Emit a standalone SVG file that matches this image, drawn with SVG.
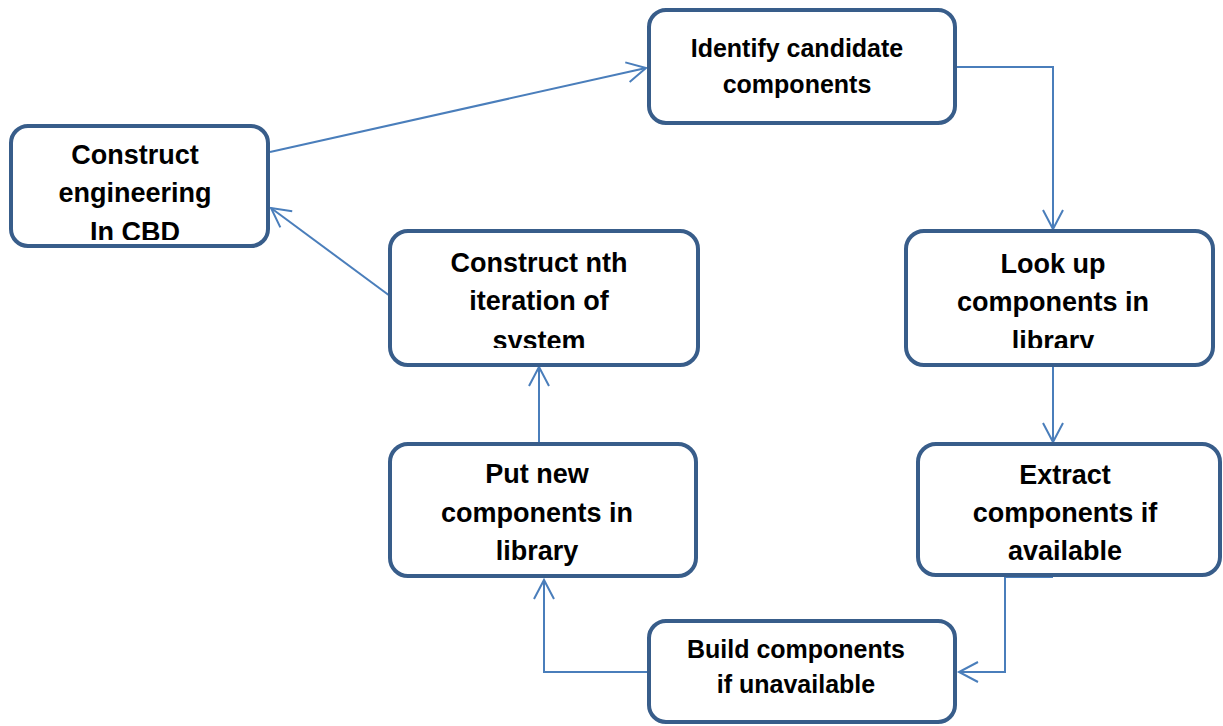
<svg xmlns="http://www.w3.org/2000/svg" width="1223" height="726" viewBox="0 0 1223 726">
<style>
.box{fill:#ffffff;stroke:#385d8a;stroke-width:4}
.lbl{font-family:"Liberation Sans",Arial,sans-serif;font-weight:bold;fill:#000000;text-anchor:middle}
.big{font-size:27px}
.sm{font-size:25px}
.con{fill:none;stroke:#4a7ebb;stroke-width:2}
</style>
<defs>
<marker id="arr" markerUnits="userSpaceOnUse" markerWidth="30" markerHeight="30" viewBox="-22 -15 30 30" refX="0" refY="0" orient="auto">
<path d="M-19,-10 L0,0 L-19,10" fill="none" stroke="#4a7ebb" stroke-width="2"/>
</marker>
<clipPath id="c1"><rect x="13" y="128" width="253" height="112"/></clipPath>
<clipPath id="c3"><rect x="392" y="233" width="304" height="115"/></clipPath>
<clipPath id="c4"><rect x="908" y="233" width="303" height="115"/></clipPath>
</defs>
<rect width="1223" height="726" fill="#ffffff"/>
<g id="connectors">
<path class="con" d="M270,152 L646,68" marker-end="url(#arr)"/>
<path class="con" d="M957,67 H1053 V229" marker-end="url(#arr)"/>
<path class="con" d="M1053,367 V442" marker-end="url(#arr)"/>
<path class="con" d="M1053,577 H1005 V672 H959" marker-end="url(#arr)"/>
<path class="con" d="M647,672 H544 V580" marker-end="url(#arr)"/>
<path class="con" d="M539,444 V367" marker-end="url(#arr)"/>
<path class="con" d="M390,296 L271,208" marker-end="url(#arr)"/>
</g>
<g id="node-construct-engineering">
<rect class="box" x="11" y="126" width="257" height="120" rx="17"/>
<g clip-path="url(#c1)">
<text class="lbl big" x="135" y="164">Construct</text>
<text class="lbl big" x="135" y="202">engineering</text>
<text class="lbl big" x="135" y="241">In CBD</text>
</g>
</g>
<g id="node-identify">
<rect class="box" x="649" y="10" width="306" height="113" rx="17"/>
<text class="lbl sm" x="797" y="57">Identify candidate</text>
<text class="lbl sm" x="797" y="93">components</text>
</g>
<g id="node-lookup">
<rect class="box" x="906" y="231" width="307" height="134" rx="18"/>
<g clip-path="url(#c4)">
<text class="lbl big" x="1053" y="273">Look up</text>
<text class="lbl big" x="1053" y="311">components in</text>
<text class="lbl big" x="1053" y="350">library</text>
</g>
</g>
<g id="node-extract">
<rect class="box" x="918" y="444" width="302" height="131" rx="18"/>
<text class="lbl big" x="1065" y="484">Extract</text>
<text class="lbl big" x="1065" y="522">components if</text>
<text class="lbl big" x="1065" y="560">available</text>
</g>
<g id="node-build">
<rect class="box" x="649" y="621" width="306" height="101" rx="17"/>
<text class="lbl sm" x="796" y="658">Build components</text>
<text class="lbl sm" x="796" y="693">if unavailable</text>
</g>
<g id="node-putnew">
<rect class="box" x="390" y="444" width="306" height="132" rx="18"/>
<text class="lbl big" x="537" y="483">Put new</text>
<text class="lbl big" x="537" y="522">components in</text>
<text class="lbl big" x="537" y="560">library</text>
</g>
<g id="node-construct-nth">
<rect class="box" x="390" y="231" width="308" height="134" rx="18"/>
<g clip-path="url(#c3)">
<text class="lbl big" x="539" y="272">Construct nth</text>
<text class="lbl big" x="539" y="310">iteration of</text>
<text class="lbl big" x="539" y="350">system</text>
</g>
</g>
</svg>
